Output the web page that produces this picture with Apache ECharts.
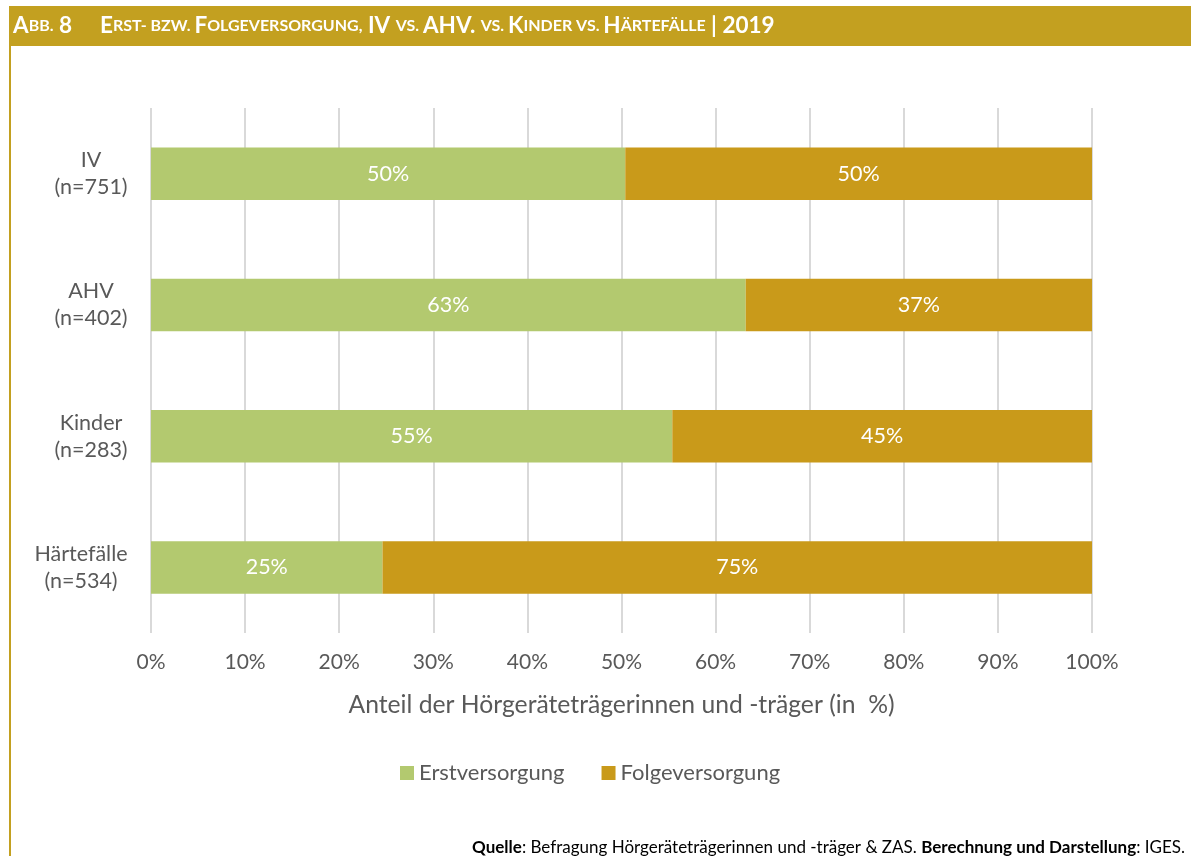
<!DOCTYPE html>
<html><head><meta charset="utf-8">
<script src="https://cdn.jsdelivr.net/npm/echarts@6/dist/echarts.min.js"></script>
<style>html,body{margin:0;padding:0;background:#fff}#c{width:1191px;height:856px}</style>
</head><body><div id="c"></div>
<script>
const categories = ['IV\n(n=751)', 'AHV\n(n=402)', 'Kinder\n(n=283)', 'Härtefälle\n(n=534)'];
const erstversorgung = [50.4, 63.2, 55.4, 24.6];
const folgeversorgung = [49.6, 36.8, 44.6, 75.4];
const xTicks = [0, 10, 20, 30, 40, 50, 60, 70, 80, 90, 100];

const FONT = 'Lato, "Open Sans", sans-serif';
const GREEN = '#B3C96F', GOLD = '#C99A1A', BAR = '#C3A020';
const YFS = 21.5;
const chart = echarts.init(document.getElementById('c'));

// measure text so that multi-line category labels are centred within their own block
const ctx = document.createElement('canvas').getContext('2d');
ctx.font = YFS + 'px Lato';
const yRich = {};
const yFmt = {};
categories.forEach((c, i) => {
  const lines = c.split('\n');
  const w = Math.ceil(Math.max(...lines.map(l => ctx.measureText(l).width)));
  yRich['c' + i] = { width: w, align: 'center', fontSize: YFS, lineHeight: 27, color: '#595959', fontFamily: FONT };
  yFmt[c] = lines.map(l => '{c' + i + '|' + l + '}').join('\n');
});

function sc(word){
  return '{b|' + word[0] + '}' + (word.length > 1 ? '{s|' + word.slice(1).toUpperCase() + '}' : '');
}
const titleRich = sc('Abb.') + '{b| 8}{g| }' + sc('Erst-') + '{s| BZW. }' + sc('Folgeversorgung,') +
  '{b| IV }{s|VS. }{b|AHV. }{s|VS. }' + sc('Kinder') + '{s| VS. }' + sc('Härtefälle') + '{b| | 2019}';

const option = {
  animation: false,
  textStyle: { fontFamily: FONT },
  grid: { left: 151, right: 99, top: 108, bottom: 223 },
  xAxis: {
    type: 'value', min: 0, max: 100, interval: 10,
    axisLine: { show: false }, axisTick: { show: false },
    splitLine: { lineStyle: { color: '#D9D9D9', width: 2 } },
    axisLabel: { formatter: v => xTicks.includes(v) ? v + '%' : '', color: '#595959', fontSize: 21, margin: 19, fontFamily: FONT },
    name: 'Anteil der Hörgeräteträgerinnen und -träger (in  %)',
    nameLocation: 'middle', nameGap: 60,
    nameTextStyle: { color: '#595959', fontSize: 24.7, fontFamily: FONT }
  },
  yAxis: {
    type: 'category', data: categories, inverse: true,
    axisLine: { show: false }, axisTick: { show: false },
    axisLabel: { color: '#595959', fontSize: YFS, lineHeight: 27, margin: 23, align: 'right', fontFamily: FONT,
      formatter: v => yFmt[v], rich: yRich }
  },
  legend: {
    bottom: 67, left: 395, itemWidth: 14, itemHeight: 14, itemGap: 37,
    icon: 'rect',
    textStyle: { color: '#595959', fontSize: 22, fontFamily: FONT }
  },
  series: [
    { name: 'Erstversorgung', type: 'bar', stack: 'a', data: erstversorgung, barCategoryGap: '60%',
      itemStyle: { color: GREEN },
      label: { show: true, position: 'inside', color: '#fff', fontSize: 21.5, fontFamily: FONT, formatter: p => Math.round(p.value) + '%' } },
    { name: 'Folgeversorgung', type: 'bar', stack: 'a', data: folgeversorgung,
      itemStyle: { color: GOLD },
      label: { show: true, position: 'inside', color: '#fff', fontSize: 21.5, fontFamily: FONT, formatter: p => Math.round(p.value) + '%' } }
  ],
  graphic: [
    { type: 'rect', shape: { x: 9, y: 6, width: 1182, height: 40 }, style: { fill: BAR }, silent: true },
    { type: 'rect', shape: { x: 9, y: 46, width: 2, height: 810 }, style: { fill: BAR }, silent: true },
    { type: 'text', x: 13, y: 26, style: {
        text: titleRich, verticalAlign: 'middle', fill: '#fff',
        rich: {
          b: { fontSize: 22.5, fontWeight: 'bold', fill: '#fff', fontFamily: FONT },
          s: { fontSize: 16, fontWeight: 'bold', fill: '#fff', fontFamily: FONT },
          g: { width: 28, fontSize: 22 }
        } } },
    { type: 'text', right: 6, bottom: 0, style: {
        text: '{b|Quelle}{n|: Befragung Hörgeräteträgerinnen und -träger & ZAS. }{b|Berechnung und Darstellung}{n|: IGES.}',
        rich: {
          b: { fontSize: 17, fontWeight: 'bold', fill: '#000', fontFamily: FONT },
          n: { fontSize: 17, fill: '#000', fontFamily: FONT }
        } } }
  ]
};
chart.setOption(option);
</script></body></html>
